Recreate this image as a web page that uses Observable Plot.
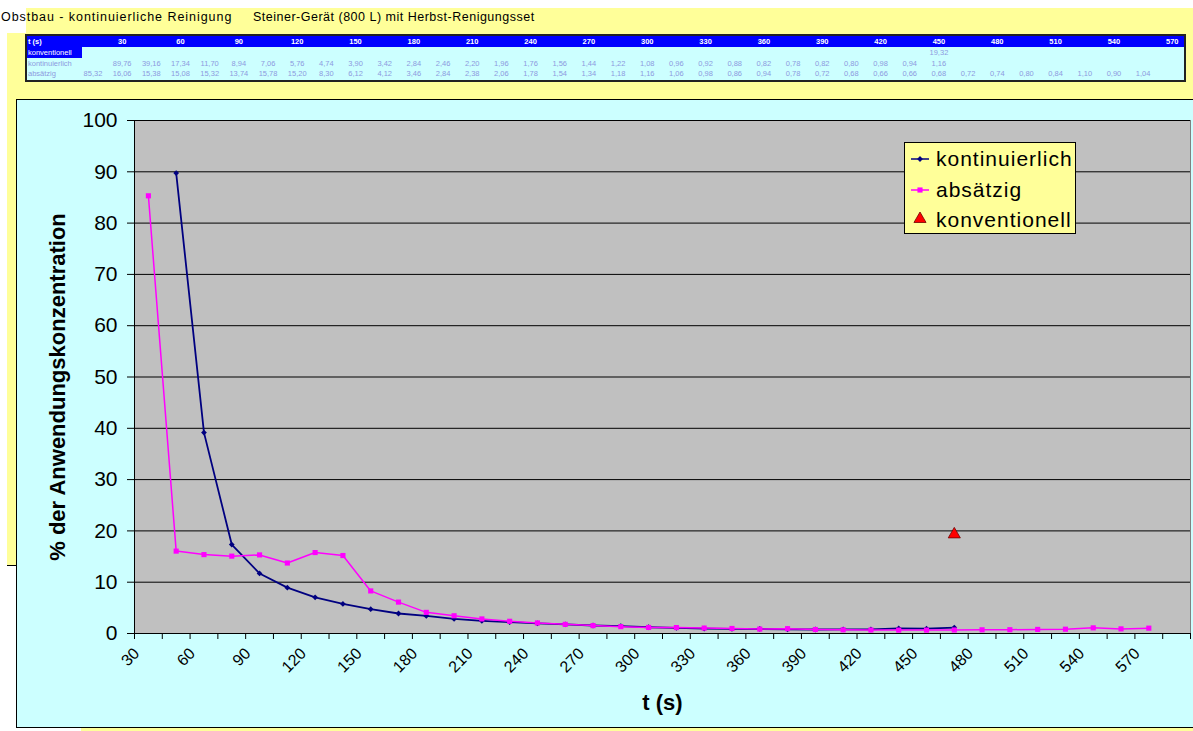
<!DOCTYPE html>
<html><head><meta charset="utf-8">
<script src="https://cdn.jsdelivr.net/npm/d3@7"></script>
<script src="https://cdn.jsdelivr.net/npm/@observablehq/plot@0.6"></script>
<style>
body{margin:0;background:#fff;width:1193px;height:731px;position:relative;overflow:hidden;font-family:"Liberation Sans",Arial,sans-serif;}
.abs{position:absolute;}
#table span{position:absolute;white-space:nowrap;font-size:7.5px;line-height:11px;}
</style></head><body>
<div class="abs" style="left:26px;top:8px;width:1167px;height:26px;background:#ffff99"></div>
<div class="abs" style="left:7px;top:33px;width:1186px;height:532px;background:#ffff99;border-bottom:1px solid #000"></div>
<div class="abs" style="left:81px;top:728px;width:1112px;height:3px;background:#ffff99"></div>
<div class="abs" id="t1" style="left:1px;top:10px;font-size:12.5px;line-height:14px;letter-spacing:0.95px;white-space:nowrap"></div>
<div class="abs" id="t2" style="left:253px;top:10px;font-size:12.5px;line-height:14px;letter-spacing:0.5px;white-space:nowrap"></div>
<div class="abs" id="table" style="left:25px;top:34px;width:1161px;height:48px;box-sizing:border-box;border:2px solid #222;background:#ccffff"></div>
<div class="abs" style="left:16px;top:99px;width:1177px;height:629px;box-sizing:border-box;background:#ccffff;border:1px solid #000;border-right:none"></div>
<div class="abs" id="chart" style="left:16px;top:99px"></div>
<div class="abs" id="legend" style="left:904px;top:142px"></div>
<script>
// ---- data ----
const titleLeft = "Obstbau - kontinuierliche Reinigung";
const titleRight = "Steiner-Gerät (800 L) mit Herbst-Renigungsset";
const tickLabels = [30,60,90,120,150,180,210,240,270,300,330,360,390,420,450,480,510,540,570];
const nCategories = 38;
const rowNames = ["t (s)", "konventionell", "kontinuierlich", "absätzig"];
const seriesNames = ["kontinuierlich", "absätzig", "konventionell"];
// absätzig starts at category 0
const absaetzig = [85.32,16.06,15.38,15.08,15.32,13.74,15.78,15.20,8.30,6.12,4.12,3.46,2.84,2.38,2.06,1.78,1.54,1.34,1.18,1.16,1.06,0.98,0.86,0.94,0.78,0.72,0.68,0.66,0.66,0.68,0.72,0.74,0.80,0.84,1.10,0.90,1.04];
const absStart = 0;
// kontinuierlich starts at category 1
const kontinuierlich = [89.76,39.16,17.34,11.70,8.94,7.06,5.76,4.74,3.90,3.42,2.84,2.46,2.20,1.96,1.76,1.56,1.44,1.22,1.08,0.96,0.92,0.88,0.82,0.78,0.82,0.80,0.98,0.94,1.16];
const kontStart = 1;
const konventionell = [19.32];
const konvStart = 29;
const yTicks = [0,10,20,30,40,50,60,70,80,90,100];

const colors = {kont: "#000080", abs: "#ff00ff", konv: "#ff0000"};

// ---- titles ----
document.getElementById("t1").textContent = titleLeft;
document.getElementById("t2").textContent = titleRight;

// ---- table ----
const fmt = v => d3.format(".2f")(v).replace(".", ",");
const table = document.getElementById("table");
const ox = 27, oy = 36; // content origin in page coords
const colCenter = c => 93 + 29.17 * c - ox;
function span(text, x, y, style, anchor) {
  const s = document.createElement("span");
  s.textContent = text;
  s.style.cssText = style || "";
  s.style.top = (y - oy) + "px";
  s.style.left = x + "px";
  if (anchor === "middle") s.style.transform = "translateX(-50%)";
  table.appendChild(s);
  return s;
}
const band = (x, y, w, h, col) => { const d = document.createElement("div"); d.style.cssText = `position:absolute;left:${x-ox}px;top:${y-oy}px;width:${w}px;height:${h}px;background:${col}`; table.appendChild(d); };
band(27, 36, 1157, 11, "#0000ff");
band(27, 47, 55, 11, "#0000ff");
const headStyle = "color:#fff;font-weight:bold;";
const dataStyle = "color:#8c9ae0;";
span(rowNames[0], 28 - ox, 36, headStyle);
for (let c = 0; c < nCategories; c++) {
  if (c % 2 === 1) span(String(tickLabels[(c - 1) / 2]), colCenter(c), 36, headStyle, "middle");
}
span(rowNames[1], 28 - ox, 47, "color:#fff;");
konventionell.forEach((v, i) => span(fmt(v), colCenter(konvStart + i), 47, dataStyle, "middle"));
span(rowNames[2], 28 - ox, 58, dataStyle);
kontinuierlich.forEach((v, i) => span(fmt(v), colCenter(kontStart + i), 58, dataStyle, "middle"));
span(rowNames[3], 28 - ox, 68, dataStyle);
absaetzig.forEach((v, i) => span(fmt(v), colCenter(absStart + i), 68, dataStyle, "middle"));

// ---- chart ----
const kontData = kontinuierlich.map((v, i) => ({x: kontStart + i + 0.5, y: v}));
const absData = absaetzig.map((v, i) => ({x: absStart + i + 0.5, y: v}));
const konvData = konventionell.map((v, i) => ({x: konvStart + i + 0.5, y: v}));
const labelData = tickLabels.map((t, i) => ({x: 2 * i + 0.5, t: String(t)}));

const chart = Plot.plot({
  width: 1177, height: 628,
  marginLeft: 118, marginRight: 3, marginTop: 21, marginBottom: 94,
  style: {background: "transparent", fontFamily: "'Liberation Sans', Arial, sans-serif", color: "#000", overflow: "visible"},
  x: {type: "linear", domain: [0, nCategories], axis: null},
  y: {domain: [0, 100], axis: null},
  marks: [
    Plot.frame({fill: "#c0c0c0", stroke: "#808080"}),
    Plot.ruleY(yTicks.filter(v => v > 0), {stroke: "#000", strokeWidth: 1}),
    Plot.axisY(yTicks, {tickSize: 7, tickPadding: 10, fontSize: 21, label: null}),
    Plot.axisX(d3.range(0, nCategories + 1), {tickSize: 6, tickFormat: () => "", label: null}),
    Plot.ruleX([0], {stroke: "#000"}),
    Plot.ruleY([0], {stroke: "#000"}),
    Plot.line(kontData, {x: "x", y: "y", stroke: colors.kont, strokeWidth: 1.8}),
    Plot.dot(kontData, {x: "x", y: "y", symbol: "diamond2", r: 2.6, fill: colors.kont}),
    Plot.line(absData, {x: "x", y: "y", stroke: colors.abs, strokeWidth: 1.5}),
    Plot.dot(absData, {x: "x", y: "y", symbol: "square", r: 2.9, fill: colors.abs}),
    Plot.dot(konvData, {x: "x", y: "y", symbol: "triangle", r: 4.5, fill: colors.konv, stroke: "#700000", strokeWidth: 0.8}),
    Plot.text(labelData, {x: "x", text: "t", frameAnchor: "bottom", rotate: -45, textAnchor: "end", dx: -8, dy: 21, fontSize: 16}),
    Plot.text(["t (s)"], {x: () => nCategories / 2, text: d => d, frameAnchor: "bottom", textAnchor: "middle", dy: 76, fontSize: 22, fontWeight: "bold"}),
    Plot.text(["% der Anwendungskonzentration"], {text: d => d, frameAnchor: "left", textAnchor: "middle", dx: -77, dy: 10, rotate: -90, fontSize: 22, fontWeight: "bold"})
  ]
});
document.getElementById("chart").appendChild(chart);

// ---- legend ----
const lg = d3.select("#legend").append("svg").attr("width", 173).attr("height", 93);
lg.append("rect").attr("x", 0.5).attr("y", 0.5).attr("width", 171).attr("height", 91).attr("fill", "#ffff99").attr("stroke", "#000");
const rows = [
  {name: seriesNames[0], color: colors.kont, sym: d3.symbolDiamond2, size: Math.PI * 2.6 * 2.6, line: true, y: 17, base: 24},
  {name: seriesNames[1], color: colors.abs, sym: d3.symbolSquare, size: Math.PI * 2.9 * 2.9, line: true, y: 48, base: 55},
  {name: seriesNames[2], color: colors.konv, sym: d3.symbolTriangle, size: Math.PI * 4.5 * 4.5, line: false, y: 77, base: 85}
];
rows.forEach(r => {
  if (r.line) lg.append("line").attr("x1", 7).attr("x2", 25).attr("y1", r.y).attr("y2", r.y).attr("stroke", r.color).attr("stroke-width", 1.5);
  lg.append("path").attr("d", d3.symbol(r.sym, r.size)()).attr("transform", `translate(16,${r.y})`)
    .attr("fill", r.color).attr("stroke", r.line ? "none" : "#700000").attr("stroke-width", 0.8);
  lg.append("text").attr("x", 32).attr("y", r.base).text(r.name)
    .attr("font-family", "'Liberation Sans', Arial, sans-serif").attr("font-size", 21).attr("letter-spacing", 1).attr("fill", "#000");
});
</script>
</body></html>
